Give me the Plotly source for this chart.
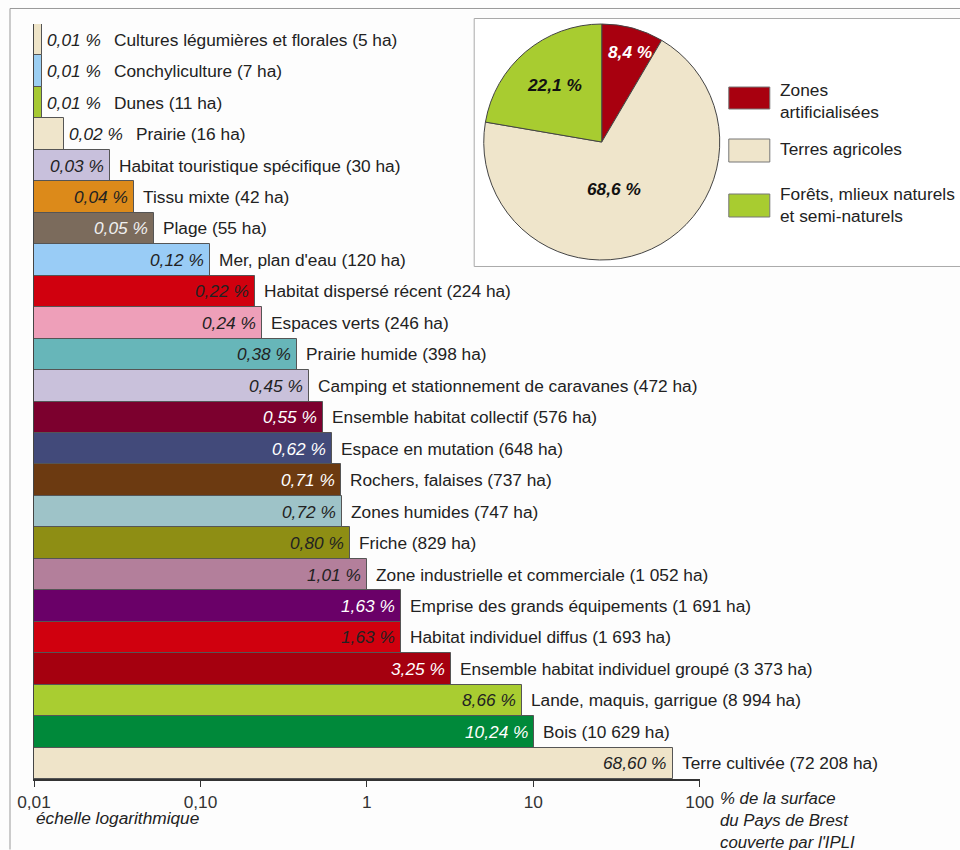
import math
import plotly.graph_objects as go

# ---------------- data ----------------
categories = [
    "Cultures légumières et florales", "Conchyliculture", "Dunes", "Prairie",
    "Habitat touristique spécifique", "Tissu mixte", "Plage", "Mer, plan d'eau",
    "Habitat dispersé récent", "Espaces verts", "Prairie humide",
    "Camping et stationnement de caravanes", "Ensemble habitat collectif",
    "Espace en mutation", "Rochers, falaises", "Zones humides", "Friche",
    "Zone industrielle et commerciale", "Emprise des grands équipements",
    "Habitat individuel diffus", "Ensemble habitat individuel groupé",
    "Lande, maquis, garrigue", "Bois", "Terre cultivée",
]
surface_ha = ["5", "7", "11", "16", "30", "42", "55", "120", "224", "246", "398",
              "472", "576", "648", "737", "747", "829", "1 052", "1 691", "1 693",
              "3 373", "8 994", "10 629", "72 208"]
pct_labels = [0.01, 0.01, 0.01, 0.02, 0.03, 0.04, 0.05, 0.12, 0.22, 0.24, 0.38,
              0.45, 0.55, 0.62, 0.71, 0.72, 0.80, 1.01, 1.63, 1.63, 3.25, 8.66,
              10.24, 68.60]
# bar lengths as drawn in the picture (% of surface, log scale)
bar_pct = [0.0112, 0.0112, 0.0112, 0.0152, 0.0285, 0.0399, 0.0523, 0.114, 0.213,
           0.234, 0.378, 0.448, 0.547, 0.616, 0.700, 0.710, 0.788, 0.999, 1.607,
           1.608, 3.20, 8.54, 10.10, 68.6]
bar_colors = ["#eee4c8", "#9ccff3", "#a6c933", "#efe5cb", "#c8c0dc", "#dc8a1a",
              "#7b6b5c", "#99ccf6", "#d0000e", "#ee9fb9", "#67b6b9", "#c9c1db",
              "#7c002e", "#424a7a", "#6c3a11", "#9ec3c8", "#8e8e14", "#b37f9b",
              "#6a0068", "#d0000e", "#a5000f", "#a9cd31", "#00893a", "#efe4c9"]
value_text_colors = ["#222", "#222", "#222", "#222", "#222", "#222", "#f0f0f0",
                     "#222", "#222", "#222", "#222", "#222", "#ffffff", "#ffffff",
                     "#ffffff", "#222", "#222", "#222", "#ffffff", "#222",
                     "#ffffff", "#222", "#ffffff", "#222"]
value_outside = [True, True, True, True] + [False] * 20

pie_labels = ["Zones artificialisées", "Terres agricoles",
              "Forêts, mlieux naturels et semi-naturels"]
pie_values = [8.4, 68.6, 22.1]
pie_colors = ["#a8000f", "#efe5cb", "#a8cc30"]
pie_text = ["8,4 %", "68,6 %", "22,1 %"]
pie_text_colors = ["#ffffff", "#111111", "#111111"]
legend_lines = ["Zones<br>artificialisées", "Terres agricoles",
                "Forêts, mlieux naturels<br>et semi-naturels"]

tick_vals = [0.01, 0.1, 1, 10, 100]
tick_text = ["0,01", "0,10", "1", "10", "100"]

# ---------------- layout helpers ----------------
K = 975 / 960          # horizontal compensation of the capture
W, H = 975, 850
AX_L, AX_R, AX_T, AX_B = 33, 699, 24, 779   # plot area in picture pixels
ML = round(AX_L * K)
MT, MB, MR = AX_T, H - AX_B, 8
PW, PH = W - ML - MR, H - MT - MB


def px(x):  # picture x -> paper x
    return (x * K - ML) / PW


def py(y):  # picture y -> paper y
    return (H - MB - y) / PH


def clamp(v):
    return min(1.0, max(0.0, v))


FONT = "Liberation Sans, Arial, sans-serif"
FS = 17.3


def fr(v):
    return f"{v:.2f}".replace(".", ",") + " %"


fig = go.Figure()
fig.add_trace(go.Bar(
    x=bar_pct, y=categories, orientation="h",
    marker=dict(color=bar_colors, line=dict(color="#555555", width=1)),
    hoverinfo="skip", showlegend=False,
))

fig.add_trace(go.Pie(
    labels=pie_labels, values=pie_values, sort=False, direction="clockwise",
    rotation=0, marker=dict(colors=pie_colors, line=dict(color="#444444", width=1)),
    textinfo="none", showlegend=False, hoverinfo="skip",
    domain=dict(x=[clamp(px(482)), clamp(px(720))],
                y=[clamp(py(260)), clamp(py(24))]),
))

ann = []
for i, (cat, ha, lab, bl) in enumerate(zip(categories, surface_ha, pct_labels, bar_pct)):
    xl = math.log10(bl)
    if value_outside[i]:
        ann.append(dict(x=xl, y=i, xref="x", yref="y", text=f"<i>{fr(lab)}</i>",
                        xanchor="left", xshift=3 * K, showarrow=False,
                        font=dict(size=FS, color=value_text_colors[i], family=FONT)))
        ann.append(dict(x=xl, y=i, xref="x", yref="y", text=f"{cat} ({ha} ha)",
                        xanchor="left", xshift=69 * K, showarrow=False,
                        font=dict(size=FS, color="#222", family=FONT)))
    else:
        ann.append(dict(x=xl, y=i, xref="x", yref="y", text=f"<i>{fr(lab)}</i>",
                        xanchor="right", xshift=-4 * K, showarrow=False,
                        font=dict(size=FS, color=value_text_colors[i], family=FONT)))
        ann.append(dict(x=xl, y=i, xref="x", yref="y", text=f"{cat} ({ha} ha)",
                        xanchor="left", xshift=7 * K, showarrow=False,
                        font=dict(size=FS, color="#222", family=FONT)))

# pie labels
pie_label_pos = [(629, 52), (613, 189), (554, 85)]
for t, c, (x, y) in zip(pie_text, pie_text_colors, pie_label_pos):
    ann.append(dict(x=px(x), y=py(y), xref="paper", yref="paper", text=f"<b><i>{t}</i></b>",
                    showarrow=False, xanchor="center", yanchor="middle",
                    font=dict(size=FS, color=c, family=FONT)))


def path(points):
    s = ""
    for k, (x, y) in enumerate(points):
        s += ("M" if k == 0 else "L") + f"{px(x):.5f},{py(y):.5f} "
    return s.strip()


RIGHT = 959.5
shapes = []
# pie box background (open on the right side, as in the picture)
shapes.append(dict(type="rect", xref="paper", yref="paper", x0=px(473), x1=px(RIGHT),
                   y0=py(266.5), y1=py(18.5), line=dict(width=0),
                   fillcolor="#ffffff", layer="below"))
shapes.append(dict(type="path", xref="paper", yref="paper",
                   path=path([(RIGHT, 18.5), (473.5, 18.5), (473.5, 266.5), (RIGHT, 266.5)]),
                   line=dict(color="#aaa", width=1), layer="below"))
# outer frame lines
shapes.append(dict(type="path", xref="paper", yref="paper",
                   path=path([(RIGHT, 8.5), (9.5, 8.5), (9.5, 849.5)]),
                   line=dict(color="#999", width=1)))
# custom legend
sw_y = [(87, 109), (139, 162), (194, 217)]
txt_y = [101, 149, 205]
for (y0, y1), c, t, ty in zip(sw_y, pie_colors, legend_lines, txt_y):
    shapes.append(dict(type="rect", xref="paper", yref="paper", x0=px(728), x1=px(769),
                       y0=py(y1), y1=py(y0), fillcolor=c,
                       line=dict(color="#777", width=1)))
    ann.append(dict(x=px(777), y=py(ty), xref="paper", yref="paper", text=t,
                    showarrow=False, xanchor="left", yanchor="middle", align="left",
                    font=dict(size=FS, color="#222", family=FONT)))

# axis notes
ann.append(dict(x=px(33), y=py(818), xref="paper", yref="paper",
                text="<i>échelle logarithmique</i>", showarrow=False,
                xanchor="left", yanchor="middle",
                font=dict(size=FS, color="#222", family=FONT)))
ann.append(dict(x=px(717), y=py(787), xref="paper", yref="paper",
                text="<i>% de la surface<br>du Pays de Brest<br>couverte par l'IPLI</i>",
                showarrow=False, xanchor="left", yanchor="top", align="left",
                font=dict(size=16.8, color="#222", family=FONT)))

fig.update_layout(
    width=W, height=H,
    margin=dict(l=ML, r=MR, t=MT, b=MB),
    paper_bgcolor="#fdfdfd", plot_bgcolor="rgba(0,0,0,0)",
    bargap=0,
    xaxis=dict(type="log", range=[-2, 2], domain=[0, px(AX_R)],
               tickvals=tick_vals, ticktext=tick_text, ticks="outside",
               ticklen=6, tickcolor="#333", tickwidth=1.2,
               showline=True, linecolor="#333", linewidth=1.5,
               showgrid=False, zeroline=False,
               tickfont=dict(size=FS, color="#333", family=FONT)),
    yaxis=dict(type="category", range=[23.5, -0.5], showticklabels=False,
               showline=True, linecolor="#444", linewidth=1.2,
               showgrid=False, zeroline=False, ticks=""),
    annotations=ann, shapes=shapes,
    font=dict(family=FONT),
)

fig.write_html(
    "out.html",
    config={"displayModeBar": False},
    post_script=("document.body.style.margin='0px';"
                 "document.body.style.overflow='hidden';"
                 "document.documentElement.style.overflow='hidden';"),
)
